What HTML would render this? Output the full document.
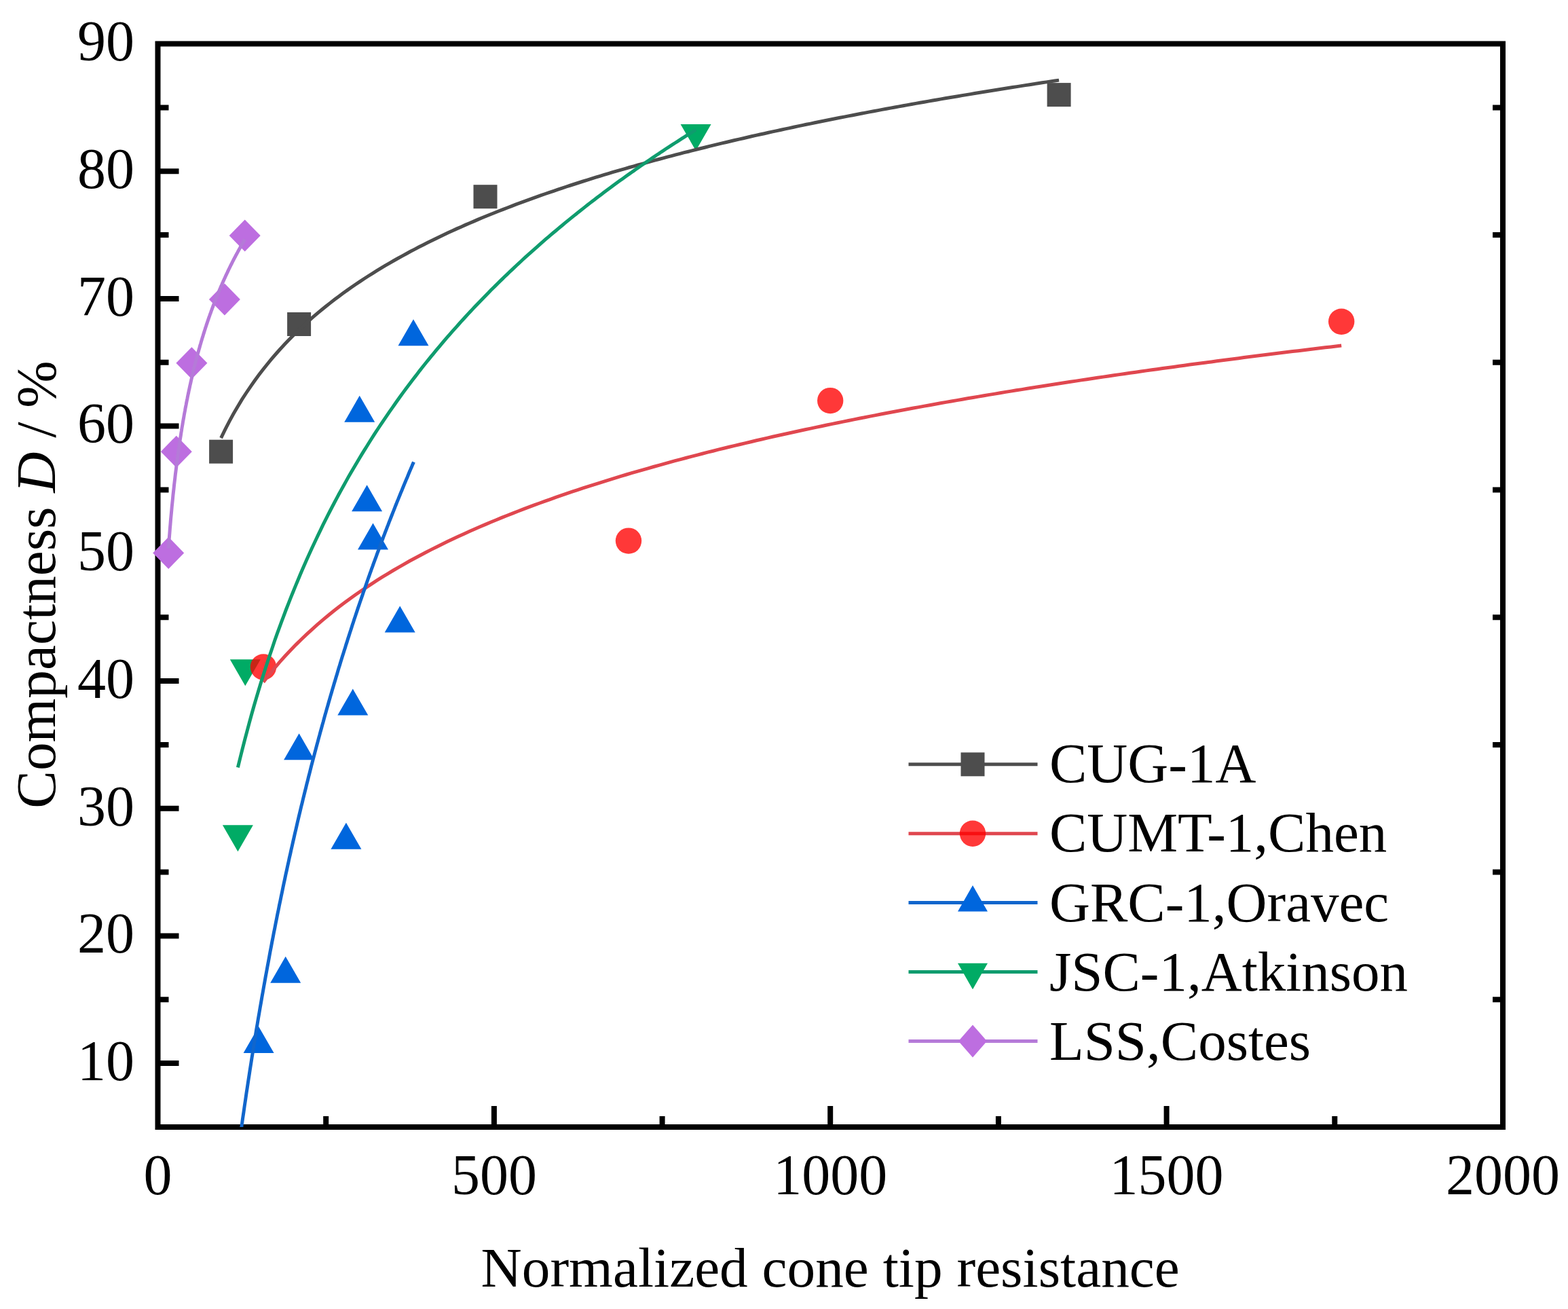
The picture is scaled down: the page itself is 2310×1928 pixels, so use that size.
<!DOCTYPE html>
<html><head><meta charset="utf-8"><title>Compactness vs normalized cone tip resistance</title>
<style>html,body{margin:0;padding:0;background:#fff;}body{width:2310px;height:1928px;overflow:hidden;}svg{display:block;}</style>
</head><body><svg width="2310" height="1928" viewBox="0 0 2310 1928" font-family='"Liberation Serif", "Times New Roman", serif' fill="#000"><rect x="232.5" y="64.5" width="1981.5" height="1595.5" fill="none" stroke="#000" stroke-width="8"/><path d="M480.2 1660.0V1644.0 M727.9 1660.0V1629.0 M975.6 1660.0V1644.0 M1223.2 1660.0V1629.0 M1470.9 1660.0V1644.0 M1718.6 1660.0V1629.0 M1966.3 1660.0V1644.0 M232.5 1566.1H263.5 M232.5 1472.3H248.5 M2214.0 1472.3H2199.0 M232.5 1378.4H263.5 M232.5 1284.6H248.5 M2214.0 1284.6H2199.0 M232.5 1190.7H263.5 M232.5 1096.9H248.5 M2214.0 1096.9H2199.0 M232.5 1003.0H263.5 M232.5 909.2H248.5 M2214.0 909.2H2199.0 M232.5 815.3H263.5 M232.5 721.5H248.5 M2214.0 721.5H2199.0 M232.5 627.6H263.5 M232.5 533.8H248.5 M2214.0 533.8H2199.0 M232.5 439.9H263.5 M232.5 346.1H248.5 M2214.0 346.1H2199.0 M232.5 252.2H263.5 M232.5 158.4H248.5 M2214.0 158.4H2199.0" stroke="#000" stroke-width="8" fill="none"/><g font-size="84"><text x="232.5" y="1758.8" text-anchor="middle">0</text><text x="727.9" y="1758.8" text-anchor="middle">500</text><text x="1223.2" y="1758.8" text-anchor="middle">1000</text><text x="1718.6" y="1758.8" text-anchor="middle">1500</text><text x="2214.0" y="1758.8" text-anchor="middle">2000</text><text x="198" y="1590.9" text-anchor="end">10</text><text x="198" y="1403.2" text-anchor="end">20</text><text x="198" y="1215.5" text-anchor="end">30</text><text x="198" y="1027.8" text-anchor="end">40</text><text x="198" y="840.1" text-anchor="end">50</text><text x="198" y="652.4" text-anchor="end">60</text><text x="198" y="464.7" text-anchor="end">70</text><text x="198" y="277.0" text-anchor="end">80</text><text x="198" y="89.3" text-anchor="end">90</text></g><text x="1223.2" y="1895" text-anchor="middle" font-size="83.3">Normalized cone tip resistance</text><text transform="translate(80.5 861) rotate(-90)" text-anchor="middle" font-size="83.3">Compactness <tspan font-style="italic">D</tspan> / %</text><defs><clipPath id="pc"><rect x="232.5" y="64.5" width="1981.5" height="1595.5"/></clipPath></defs><rect x="308.1" y="647.7" width="35" height="35" fill="#4d4d4d"/><rect x="423.1" y="460.0" width="35" height="35" fill="#4d4d4d"/><rect x="697.5" y="272.2" width="35" height="35" fill="#4d4d4d"/><rect x="1542.6" y="122.1" width="35" height="35" fill="#4d4d4d"/><path d="M350.4 1254.3L372.9 1215.3L327.9 1215.3Z" fill="#00ab65"/><path d="M361.3 1010.3L383.8 971.3L338.8 971.3Z" fill="#00ab65"/><path d="M1025.1 221.9L1047.6 182.9L1002.6 182.9Z" fill="#00ab65"/><circle cx="388.0" cy="982.4" r="19.2" fill="#ff0000" fill-opacity="0.78"/><circle cx="926.0" cy="796.6" r="19.2" fill="#ff0000" fill-opacity="0.78"/><circle cx="1223.2" cy="590.1" r="19.2" fill="#ff0000" fill-opacity="0.78"/><circle cx="1976.2" cy="473.7" r="19.2" fill="#ff0000" fill-opacity="0.78"/><path d="M381.1 1512.0L403.6 1551.0L358.6 1551.0Z" fill="#0066dd"/><path d="M420.7 1408.8L443.2 1447.8L398.2 1447.8Z" fill="#0066dd"/><path d="M440.6 1080.3L463.1 1119.3L418.1 1119.3Z" fill="#0066dd"/><path d="M509.9 1211.7L532.4 1250.7L487.4 1250.7Z" fill="#0066dd"/><path d="M519.8 1014.6L542.3 1053.6L497.3 1053.6Z" fill="#0066dd"/><path d="M529.7 582.8L552.2 621.8L507.2 621.8Z" fill="#0066dd"/><path d="M540.6 714.2L563.1 753.2L518.1 753.2Z" fill="#0066dd"/><path d="M549.5 770.6L572.0 809.6L527.0 809.6Z" fill="#0066dd"/><path d="M589.2 892.6L611.7 931.6L566.7 931.6Z" fill="#0066dd"/><path d="M609.0 470.2L631.5 509.2L586.5 509.2Z" fill="#0066dd"/><path d="M248.2 790.9L271.2 814.4L248.2 837.9L225.2 814.4Z" fill="#bd6ee0"/><path d="M259.8 641.7L282.8 665.2L259.8 688.7L236.8 665.2Z" fill="#bd6ee0"/><path d="M282.4 511.2L305.4 534.7L282.4 558.2L259.4 534.7Z" fill="#bd6ee0"/><path d="M330.9 417.4L353.9 440.9L330.9 464.4L307.9 440.9Z" fill="#bd6ee0"/><path d="M360.7 323.5L383.7 347.0L360.7 370.5L337.7 347.0Z" fill="#bd6ee0"/><g clip-path="url(#pc)"><path d="M325.6 645.2 L331.8 632.4 L338.0 620.4 L344.2 609.1 L350.4 598.4 L356.6 588.2 L362.9 578.5 L369.1 569.3 L375.3 560.5 L381.5 552.1 L387.7 544.0 L393.9 536.2 L400.1 528.7 L406.3 521.5 L412.5 514.5 L418.7 507.8 L424.9 501.3 L431.1 495.0 L437.3 488.9 L443.5 483.0 L449.7 477.2 L455.9 471.6 L462.1 466.2 L468.3 460.9 L474.5 455.8 L480.7 450.8 L486.9 445.9 L493.1 441.1 L499.3 436.4 L505.5 431.8 L511.7 427.4 L517.9 423.0 L524.1 418.8 L530.3 414.6 L536.5 410.5 L542.7 406.5 L549.0 402.6 L555.2 398.7 L561.4 394.9 L567.6 391.2 L573.8 387.6 L580.0 384.0 L586.2 380.5 L592.4 377.1 L598.6 373.7 L604.8 370.3 L611.0 367.1 L617.2 363.8 L623.4 360.7 L629.6 357.5 L635.8 354.5 L642.0 351.4 L648.2 348.4 L654.4 345.5 L660.6 342.6 L666.8 339.8 L673.0 336.9 L679.2 334.2 L685.4 331.4 L691.6 328.7 L697.8 326.1 L704.0 323.4 L710.2 320.8 L716.4 318.3 L722.6 315.8 L728.9 313.3 L735.1 310.8 L741.3 308.4 L747.5 306.0 L753.7 303.6 L759.9 301.2 L766.1 298.9 L772.3 296.6 L778.5 294.4 L784.7 292.1 L790.9 289.9 L797.1 287.7 L803.3 285.5 L809.5 283.4 L815.7 281.3 L821.9 279.2 L828.1 277.1 L834.3 275.0 L840.5 273.0 L846.7 271.0 L852.9 269.0 L859.1 267.0 L865.3 265.1 L871.5 263.1 L877.7 261.2 L883.9 259.3 L890.1 257.4 L896.3 255.6 L902.5 253.7 L908.7 251.9 L915.0 250.1 L921.2 248.3 L927.4 246.5 L933.6 244.8 L939.8 243.0 L946.0 241.3 L952.2 239.6 L958.4 237.9 L964.6 236.2 L970.8 234.5 L977.0 232.8 L983.2 231.2 L989.4 229.6 L995.6 227.9 L1001.8 226.3 L1008.0 224.7 L1014.2 223.2 L1020.4 221.6 L1026.6 220.0 L1032.8 218.5 L1039.0 217.0 L1045.2 215.4 L1051.4 213.9 L1057.6 212.4 L1063.8 210.9 L1070.0 209.5 L1076.2 208.0 L1082.4 206.5 L1088.6 205.1 L1094.9 203.7 L1101.1 202.3 L1107.3 200.8 L1113.5 199.4 L1119.7 198.0 L1125.9 196.7 L1132.1 195.3 L1138.3 193.9 L1144.5 192.6 L1150.7 191.2 L1156.9 189.9 L1163.1 188.6 L1169.3 187.2 L1175.5 185.9 L1181.7 184.6 L1187.9 183.3 L1194.1 182.1 L1200.3 180.8 L1206.5 179.5 L1212.7 178.3 L1218.9 177.0 L1225.1 175.8 L1231.3 174.5 L1237.5 173.3 L1243.7 172.1 L1249.9 170.9 L1256.1 169.7 L1262.3 168.5 L1268.5 167.3 L1274.7 166.1 L1281.0 164.9 L1287.2 163.7 L1293.4 162.6 L1299.6 161.4 L1305.8 160.3 L1312.0 159.1 L1318.2 158.0 L1324.4 156.9 L1330.6 155.7 L1336.8 154.6 L1343.0 153.5 L1349.2 152.4 L1355.4 151.3 L1361.6 150.2 L1367.8 149.1 L1374.0 148.0 L1380.2 147.0 L1386.4 145.9 L1392.6 144.8 L1398.8 143.8 L1405.0 142.7 L1411.2 141.7 L1417.4 140.6 L1423.6 139.6 L1429.8 138.6 L1436.0 137.5 L1442.2 136.5 L1448.4 135.5 L1454.6 134.5 L1460.9 133.5 L1467.1 132.5 L1473.3 131.5 L1479.5 130.5 L1485.7 129.5 L1491.9 128.5 L1498.1 127.6 L1504.3 126.6 L1510.5 125.6 L1516.7 124.7 L1522.9 123.7 L1529.1 122.8 L1535.3 121.8 L1541.5 120.9 L1547.7 119.9 L1553.9 119.0 L1560.1 118.1" stroke="#4d4d4d" stroke-width="5" fill="none"/><path d="M388.0 1004.6 L396.0 994.3 L404.0 984.6 L412.0 975.2 L420.0 966.3 L428.0 957.8 L435.9 949.6 L443.9 941.7 L451.9 934.1 L459.9 926.8 L467.9 919.7 L475.8 912.8 L483.8 906.2 L491.8 899.8 L499.8 893.6 L507.8 887.6 L515.7 881.7 L523.7 876.0 L531.7 870.5 L539.7 865.1 L547.7 859.8 L555.6 854.7 L563.6 849.7 L571.6 844.8 L579.6 840.0 L587.6 835.4 L595.5 830.8 L603.5 826.3 L611.5 822.0 L619.5 817.7 L627.5 813.5 L635.5 809.4 L643.4 805.4 L651.4 801.5 L659.4 797.6 L667.4 793.8 L675.4 790.1 L683.3 786.4 L691.3 782.8 L699.3 779.3 L707.3 775.8 L715.3 772.4 L723.2 769.0 L731.2 765.7 L739.2 762.4 L747.2 759.2 L755.2 756.1 L763.1 753.0 L771.1 749.9 L779.1 746.9 L787.1 743.9 L795.1 741.0 L803.0 738.1 L811.0 735.3 L819.0 732.4 L827.0 729.7 L835.0 726.9 L843.0 724.2 L850.9 721.6 L858.9 718.9 L866.9 716.3 L874.9 713.8 L882.9 711.3 L890.8 708.8 L898.8 706.3 L906.8 703.8 L914.8 701.4 L922.8 699.0 L930.7 696.7 L938.7 694.4 L946.7 692.1 L954.7 689.8 L962.7 687.5 L970.6 685.3 L978.6 683.1 L986.6 680.9 L994.6 678.7 L1002.6 676.6 L1010.5 674.5 L1018.5 672.4 L1026.5 670.3 L1034.5 668.3 L1042.5 666.2 L1050.5 664.2 L1058.4 662.2 L1066.4 660.3 L1074.4 658.3 L1082.4 656.4 L1090.4 654.5 L1098.3 652.6 L1106.3 650.7 L1114.3 648.8 L1122.3 647.0 L1130.3 645.1 L1138.2 643.3 L1146.2 641.5 L1154.2 639.7 L1162.2 638.0 L1170.2 636.2 L1178.1 634.5 L1186.1 632.8 L1194.1 631.1 L1202.1 629.4 L1210.1 627.7 L1218.0 626.0 L1226.0 624.4 L1234.0 622.7 L1242.0 621.1 L1250.0 619.5 L1258.0 617.9 L1265.9 616.3 L1273.9 614.7 L1281.9 613.1 L1289.9 611.6 L1297.9 610.0 L1305.8 608.5 L1313.8 607.0 L1321.8 605.5 L1329.8 604.0 L1337.8 602.5 L1345.7 601.0 L1353.7 599.6 L1361.7 598.1 L1369.7 596.7 L1377.7 595.2 L1385.6 593.8 L1393.6 592.4 L1401.6 591.0 L1409.6 589.6 L1417.6 588.2 L1425.5 586.8 L1433.5 585.5 L1441.5 584.1 L1449.5 582.8 L1457.5 581.4 L1465.5 580.1 L1473.4 578.8 L1481.4 577.4 L1489.4 576.1 L1497.4 574.8 L1505.4 573.6 L1513.3 572.3 L1521.3 571.0 L1529.3 569.7 L1537.3 568.5 L1545.3 567.2 L1553.2 566.0 L1561.2 564.7 L1569.2 563.5 L1577.2 562.3 L1585.2 561.1 L1593.1 559.9 L1601.1 558.7 L1609.1 557.5 L1617.1 556.3 L1625.1 555.1 L1633.0 554.0 L1641.0 552.8 L1649.0 551.6 L1657.0 550.5 L1665.0 549.3 L1673.0 548.2 L1680.9 547.1 L1688.9 545.9 L1696.9 544.8 L1704.9 543.7 L1712.9 542.6 L1720.8 541.5 L1728.8 540.4 L1736.8 539.3 L1744.8 538.2 L1752.8 537.1 L1760.7 536.1 L1768.7 535.0 L1776.7 533.9 L1784.7 532.9 L1792.7 531.8 L1800.6 530.8 L1808.6 529.7 L1816.6 528.7 L1824.6 527.7 L1832.6 526.6 L1840.5 525.6 L1848.5 524.6 L1856.5 523.6 L1864.5 522.6 L1872.5 521.6 L1880.5 520.6 L1888.4 519.6 L1896.4 518.6 L1904.4 517.6 L1912.4 516.7 L1920.4 515.7 L1928.3 514.7 L1936.3 513.8 L1944.3 512.8 L1952.3 511.8 L1960.3 510.9 L1968.2 510.0 L1976.2 509.0" stroke="#e0474f" stroke-width="5" fill="none"/><path d="M341.5 1768.4 L342.8 1757.6 L344.2 1747.0 L345.5 1736.5 L346.9 1726.1 L348.2 1715.8 L349.6 1705.7 L350.9 1695.6 L352.3 1685.7 L353.6 1675.9 L354.9 1666.2 L356.3 1656.6 L357.6 1647.2 L359.0 1637.8 L360.3 1628.5 L361.7 1619.3 L363.0 1610.2 L364.4 1601.2 L365.7 1592.3 L367.1 1583.5 L368.4 1574.8 L369.8 1566.1 L371.1 1557.6 L372.5 1549.1 L373.8 1540.7 L375.2 1532.4 L376.5 1524.1 L377.8 1516.0 L379.2 1507.9 L380.5 1499.9 L381.9 1491.9 L383.2 1484.1 L384.6 1476.3 L385.9 1468.5 L387.3 1460.9 L388.6 1453.3 L390.0 1445.8 L391.3 1438.3 L392.7 1430.9 L394.0 1423.6 L395.4 1416.3 L396.7 1409.1 L398.0 1401.9 L399.4 1394.8 L400.7 1387.7 L402.1 1380.8 L403.4 1373.8 L404.8 1366.9 L406.1 1360.1 L407.5 1353.3 L408.8 1346.6 L410.2 1340.0 L411.5 1333.3 L412.9 1326.8 L414.2 1320.2 L415.6 1313.8 L416.9 1307.3 L418.2 1301.0 L419.6 1294.6 L420.9 1288.3 L422.3 1282.1 L423.6 1275.9 L425.0 1269.7 L426.3 1263.6 L427.7 1257.6 L429.0 1251.5 L430.4 1245.5 L431.7 1239.6 L433.1 1233.7 L434.4 1227.8 L435.8 1222.0 L437.1 1216.2 L438.4 1210.5 L439.8 1204.7 L441.1 1199.1 L442.5 1193.4 L443.8 1187.8 L445.2 1182.3 L446.5 1176.7 L447.9 1171.2 L449.2 1165.8 L450.6 1160.3 L451.9 1154.9 L453.3 1149.6 L454.6 1144.2 L456.0 1138.9 L457.3 1133.7 L458.6 1128.4 L460.0 1123.2 L461.3 1118.1 L462.7 1112.9 L464.0 1107.8 L465.4 1102.7 L466.7 1097.7 L468.1 1092.6 L469.4 1087.6 L470.8 1082.7 L472.1 1077.7 L473.5 1072.8 L474.8 1067.9 L476.2 1063.1 L477.5 1058.2 L478.8 1053.4 L480.2 1048.6 L481.5 1043.9 L482.9 1039.2 L484.2 1034.5 L485.6 1029.8 L486.9 1025.1 L488.3 1020.5 L489.6 1015.9 L491.0 1011.3 L492.3 1006.8 L493.7 1002.2 L495.0 997.7 L496.4 993.2 L497.7 988.8 L499.0 984.3 L500.4 979.9 L501.7 975.5 L503.1 971.1 L504.4 966.8 L505.8 962.5 L507.1 958.2 L508.5 953.9 L509.8 949.6 L511.2 945.4 L512.5 941.1 L513.9 936.9 L515.2 932.7 L516.6 928.6 L517.9 924.4 L519.2 920.3 L520.6 916.2 L521.9 912.1 L523.3 908.0 L524.6 904.0 L526.0 899.9 L527.3 895.9 L528.7 891.9 L530.0 888.0 L531.4 884.0 L532.7 880.1 L534.1 876.1 L535.4 872.2 L536.8 868.3 L538.1 864.5 L539.5 860.6 L540.8 856.8 L542.1 853.0 L543.5 849.2 L544.8 845.4 L546.2 841.6 L547.5 837.8 L548.9 834.1 L550.2 830.4 L551.6 826.7 L552.9 823.0 L554.3 819.3 L555.6 815.6 L557.0 812.0 L558.3 808.4 L559.7 804.7 L561.0 801.1 L562.3 797.6 L563.7 794.0 L565.0 790.4 L566.4 786.9 L567.7 783.4 L569.1 779.8 L570.4 776.3 L571.8 772.9 L573.1 769.4 L574.5 765.9 L575.8 762.5 L577.2 759.0 L578.5 755.6 L579.9 752.2 L581.2 748.8 L582.5 745.4 L583.9 742.1 L585.2 738.7 L586.6 735.4 L587.9 732.1 L589.3 728.7 L590.6 725.4 L592.0 722.2 L593.3 718.9 L594.7 715.6 L596.0 712.4 L597.4 709.1 L598.7 705.9 L600.1 702.7 L601.4 699.5 L602.7 696.3 L604.1 693.1 L605.4 689.9 L606.8 686.8 L608.1 683.6 L609.5 680.5" stroke="#1166cc" stroke-width="5" fill="none"/><path d="M350.4 1130.4 L353.8 1116.5 L357.2 1102.9 L360.6 1089.6 L364.0 1076.8 L367.4 1064.2 L370.7 1052.0 L374.1 1040.0 L377.5 1028.4 L380.9 1017.0 L384.3 1005.8 L387.7 995.0 L391.1 984.3 L394.5 973.9 L397.9 963.7 L401.3 953.7 L404.6 943.8 L408.0 934.2 L411.4 924.8 L414.8 915.6 L418.2 906.5 L421.6 897.5 L425.0 888.8 L428.4 880.2 L431.8 871.7 L435.2 863.4 L438.6 855.2 L441.9 847.2 L445.3 839.3 L448.7 831.5 L452.1 823.8 L455.5 816.3 L458.9 808.8 L462.3 801.5 L465.7 794.3 L469.1 787.2 L472.5 780.1 L475.8 773.2 L479.2 766.4 L482.6 759.7 L486.0 753.0 L489.4 746.5 L492.8 740.0 L496.2 733.6 L499.6 727.3 L503.0 721.1 L506.4 715.0 L509.8 708.9 L513.1 702.9 L516.5 697.0 L519.9 691.2 L523.3 685.4 L526.7 679.7 L530.1 674.0 L533.5 668.4 L536.9 662.9 L540.3 657.5 L543.7 652.0 L547.0 646.7 L550.4 641.4 L553.8 636.2 L557.2 631.0 L560.6 625.9 L564.0 620.8 L567.4 615.8 L570.8 610.8 L574.2 605.9 L577.6 601.1 L581.0 596.2 L584.3 591.5 L587.7 586.7 L591.1 582.1 L594.5 577.4 L597.9 572.8 L601.3 568.3 L604.7 563.8 L608.1 559.3 L611.5 554.9 L614.9 550.5 L618.2 546.1 L621.6 541.8 L625.0 537.5 L628.4 533.3 L631.8 529.1 L635.2 524.9 L638.6 520.8 L642.0 516.7 L645.4 512.6 L648.8 508.6 L652.1 504.6 L655.5 500.6 L658.9 496.7 L662.3 492.8 L665.7 488.9 L669.1 485.1 L672.5 481.3 L675.9 477.5 L679.3 473.7 L682.7 470.0 L686.1 466.3 L689.4 462.6 L692.8 459.0 L696.2 455.4 L699.6 451.8 L703.0 448.2 L706.4 444.7 L709.8 441.2 L713.2 437.7 L716.6 434.2 L720.0 430.8 L723.3 427.3 L726.7 423.9 L730.1 420.6 L733.5 417.2 L736.9 413.9 L740.3 410.6 L743.7 407.3 L747.1 404.1 L750.5 400.8 L753.9 397.6 L757.3 394.4 L760.6 391.2 L764.0 388.1 L767.4 385.0 L770.8 381.8 L774.2 378.7 L777.6 375.7 L781.0 372.6 L784.4 369.6 L787.8 366.6 L791.2 363.6 L794.5 360.6 L797.9 357.6 L801.3 354.7 L804.7 351.7 L808.1 348.8 L811.5 345.9 L814.9 343.0 L818.3 340.2 L821.7 337.3 L825.1 334.5 L828.5 331.7 L831.8 328.9 L835.2 326.1 L838.6 323.4 L842.0 320.6 L845.4 317.9 L848.8 315.2 L852.2 312.4 L855.6 309.8 L859.0 307.1 L862.4 304.4 L865.7 301.8 L869.1 299.1 L872.5 296.5 L875.9 293.9 L879.3 291.3 L882.7 288.8 L886.1 286.2 L889.5 283.6 L892.9 281.1 L896.3 278.6 L899.7 276.1 L903.0 273.6 L906.4 271.1 L909.8 268.6 L913.2 266.1 L916.6 263.7 L920.0 261.3 L923.4 258.8 L926.8 256.4 L930.2 254.0 L933.6 251.6 L936.9 249.3 L940.3 246.9 L943.7 244.5 L947.1 242.2 L950.5 239.9 L953.9 237.5 L957.3 235.2 L960.7 232.9 L964.1 230.6 L967.5 228.3 L970.9 226.1 L974.2 223.8 L977.6 221.6 L981.0 219.3 L984.4 217.1 L987.8 214.9 L991.2 212.7 L994.6 210.5 L998.0 208.3 L1001.4 206.1 L1004.8 203.9 L1008.1 201.8 L1011.5 199.6 L1014.9 197.5 L1018.3 195.4 L1021.7 193.2 L1025.1 191.1" stroke="#0f9c6e" stroke-width="5" fill="none"/><path d="M248.2 807.7 L248.7 800.0 L249.3 792.6 L249.9 785.4 L250.4 778.5 L251.0 771.8 L251.5 765.3 L252.1 758.9 L252.7 752.8 L253.2 746.8 L253.8 741.0 L254.4 735.3 L254.9 729.8 L255.5 724.4 L256.1 719.1 L256.6 714.0 L257.2 709.0 L257.8 704.1 L258.3 699.3 L258.9 694.6 L259.5 690.0 L260.0 685.5 L260.6 681.1 L261.2 676.8 L261.7 672.6 L262.3 668.5 L262.9 664.4 L263.4 660.4 L264.0 656.5 L264.6 652.6 L265.1 648.8 L265.7 645.1 L266.3 641.5 L266.8 637.9 L267.4 634.3 L267.9 630.8 L268.5 627.4 L269.1 624.0 L269.6 620.7 L270.2 617.5 L270.8 614.2 L271.3 611.1 L271.9 607.9 L272.5 604.9 L273.0 601.8 L273.6 598.8 L274.2 595.9 L274.7 592.9 L275.3 590.1 L275.9 587.2 L276.4 584.4 L277.0 581.6 L277.6 578.9 L278.1 576.2 L278.7 573.6 L279.3 570.9 L279.8 568.3 L280.4 565.7 L281.0 563.2 L281.5 560.7 L282.1 558.2 L282.7 555.8 L283.2 553.3 L283.8 550.9 L284.4 548.6 L284.9 546.2 L285.5 543.9 L286.0 541.6 L286.6 539.3 L287.2 537.1 L287.7 534.8 L288.3 532.6 L288.9 530.5 L289.4 528.3 L290.0 526.2 L290.6 524.0 L291.1 521.9 L291.7 519.9 L292.3 517.8 L292.8 515.8 L293.4 513.7 L294.0 511.7 L294.5 509.8 L295.1 507.8 L295.7 505.9 L296.2 503.9 L296.8 502.0 L297.4 500.1 L297.9 498.2 L298.5 496.4 L299.1 494.5 L299.6 492.7 L300.2 490.9 L300.8 489.1 L301.3 487.3 L301.9 485.5 L302.4 483.8 L303.0 482.0 L303.6 480.3 L304.1 478.6 L304.7 476.9 L305.3 475.2 L305.8 473.5 L306.4 471.9 L307.0 470.2 L307.5 468.6 L308.1 466.9 L308.7 465.3 L309.2 463.7 L309.8 462.1 L310.4 460.6 L310.9 459.0 L311.5 457.4 L312.1 455.9 L312.6 454.4 L313.2 452.8 L313.8 451.3 L314.3 449.8 L314.9 448.3 L315.5 446.9 L316.0 445.4 L316.6 443.9 L317.2 442.5 L317.7 441.0 L318.3 439.6 L318.9 438.2 L319.4 436.8 L320.0 435.4 L320.5 434.0 L321.1 432.6 L321.7 431.2 L322.2 429.8 L322.8 428.5 L323.4 427.1 L323.9 425.8 L324.5 424.5 L325.1 423.1 L325.6 421.8 L326.2 420.5 L326.8 419.2 L327.3 417.9 L327.9 416.6 L328.5 415.3 L329.0 414.1 L329.6 412.8 L330.2 411.6 L330.7 410.3 L331.3 409.1 L331.9 407.8 L332.4 406.6 L333.0 405.4 L333.6 404.2 L334.1 403.0 L334.7 401.8 L335.3 400.6 L335.8 399.4 L336.4 398.2 L336.9 397.0 L337.5 395.8 L338.1 394.7 L338.6 393.5 L339.2 392.4 L339.8 391.2 L340.3 390.1 L340.9 389.0 L341.5 387.8 L342.0 386.7 L342.6 385.6 L343.2 384.5 L343.7 383.4 L344.3 382.3 L344.9 381.2 L345.4 380.1 L346.0 379.0 L346.6 378.0 L347.1 376.9 L347.7 375.8 L348.3 374.8 L348.8 373.7 L349.4 372.7 L350.0 371.6 L350.5 370.6 L351.1 369.5 L351.7 368.5 L352.2 367.5 L352.8 366.5 L353.4 365.5 L353.9 364.4 L354.5 363.4 L355.0 362.4 L355.6 361.4 L356.2 360.4 L356.7 359.5 L357.3 358.5 L357.9 357.5 L358.4 356.5 L359.0 355.6 L359.6 354.6 L360.1 353.6 L360.7 352.7" stroke="#b57ad8" stroke-width="5" fill="none"/></g><path d="M1338.5 1125.8H1528.5" stroke="#4d4d4d" stroke-width="5"/><rect x="1415.5" y="1108.3" width="35" height="35" fill="#4d4d4d"/><text x="1546" y="1152.0" font-size="83">CUG-1A</text><path d="M1338.5 1227.7H1528.5" stroke="#e0474f" stroke-width="5"/><circle cx="1433.0" cy="1227.7" r="19.2" fill="#ff0000" fill-opacity="0.78"/><text x="1546" y="1254.3" font-size="83">CUMT-1,Chen</text><path d="M1338.5 1329.6H1528.5" stroke="#1166cc" stroke-width="5"/><path d="M1433.0 1303.9L1455.0 1342.4L1411.0 1342.4Z" fill="#0066dd"/><text x="1546" y="1356.6" font-size="83">GRC-1,Oravec</text><path d="M1338.5 1431.5H1528.5" stroke="#0f9c6e" stroke-width="5"/><path d="M1433.0 1457.2L1455.0 1418.7L1411.0 1418.7Z" fill="#00ab65"/><text x="1546" y="1458.9" font-size="83">JSC-1,Atkinson</text><path d="M1338.5 1533.4H1528.5" stroke="#b57ad8" stroke-width="5"/><path d="M1433.0 1509.4L1454.0 1533.4L1433.0 1557.4L1412.0 1533.4Z" fill="#bd6ee0"/><text x="1546" y="1561.2" font-size="83">LSS,Costes</text></svg></body></html>
